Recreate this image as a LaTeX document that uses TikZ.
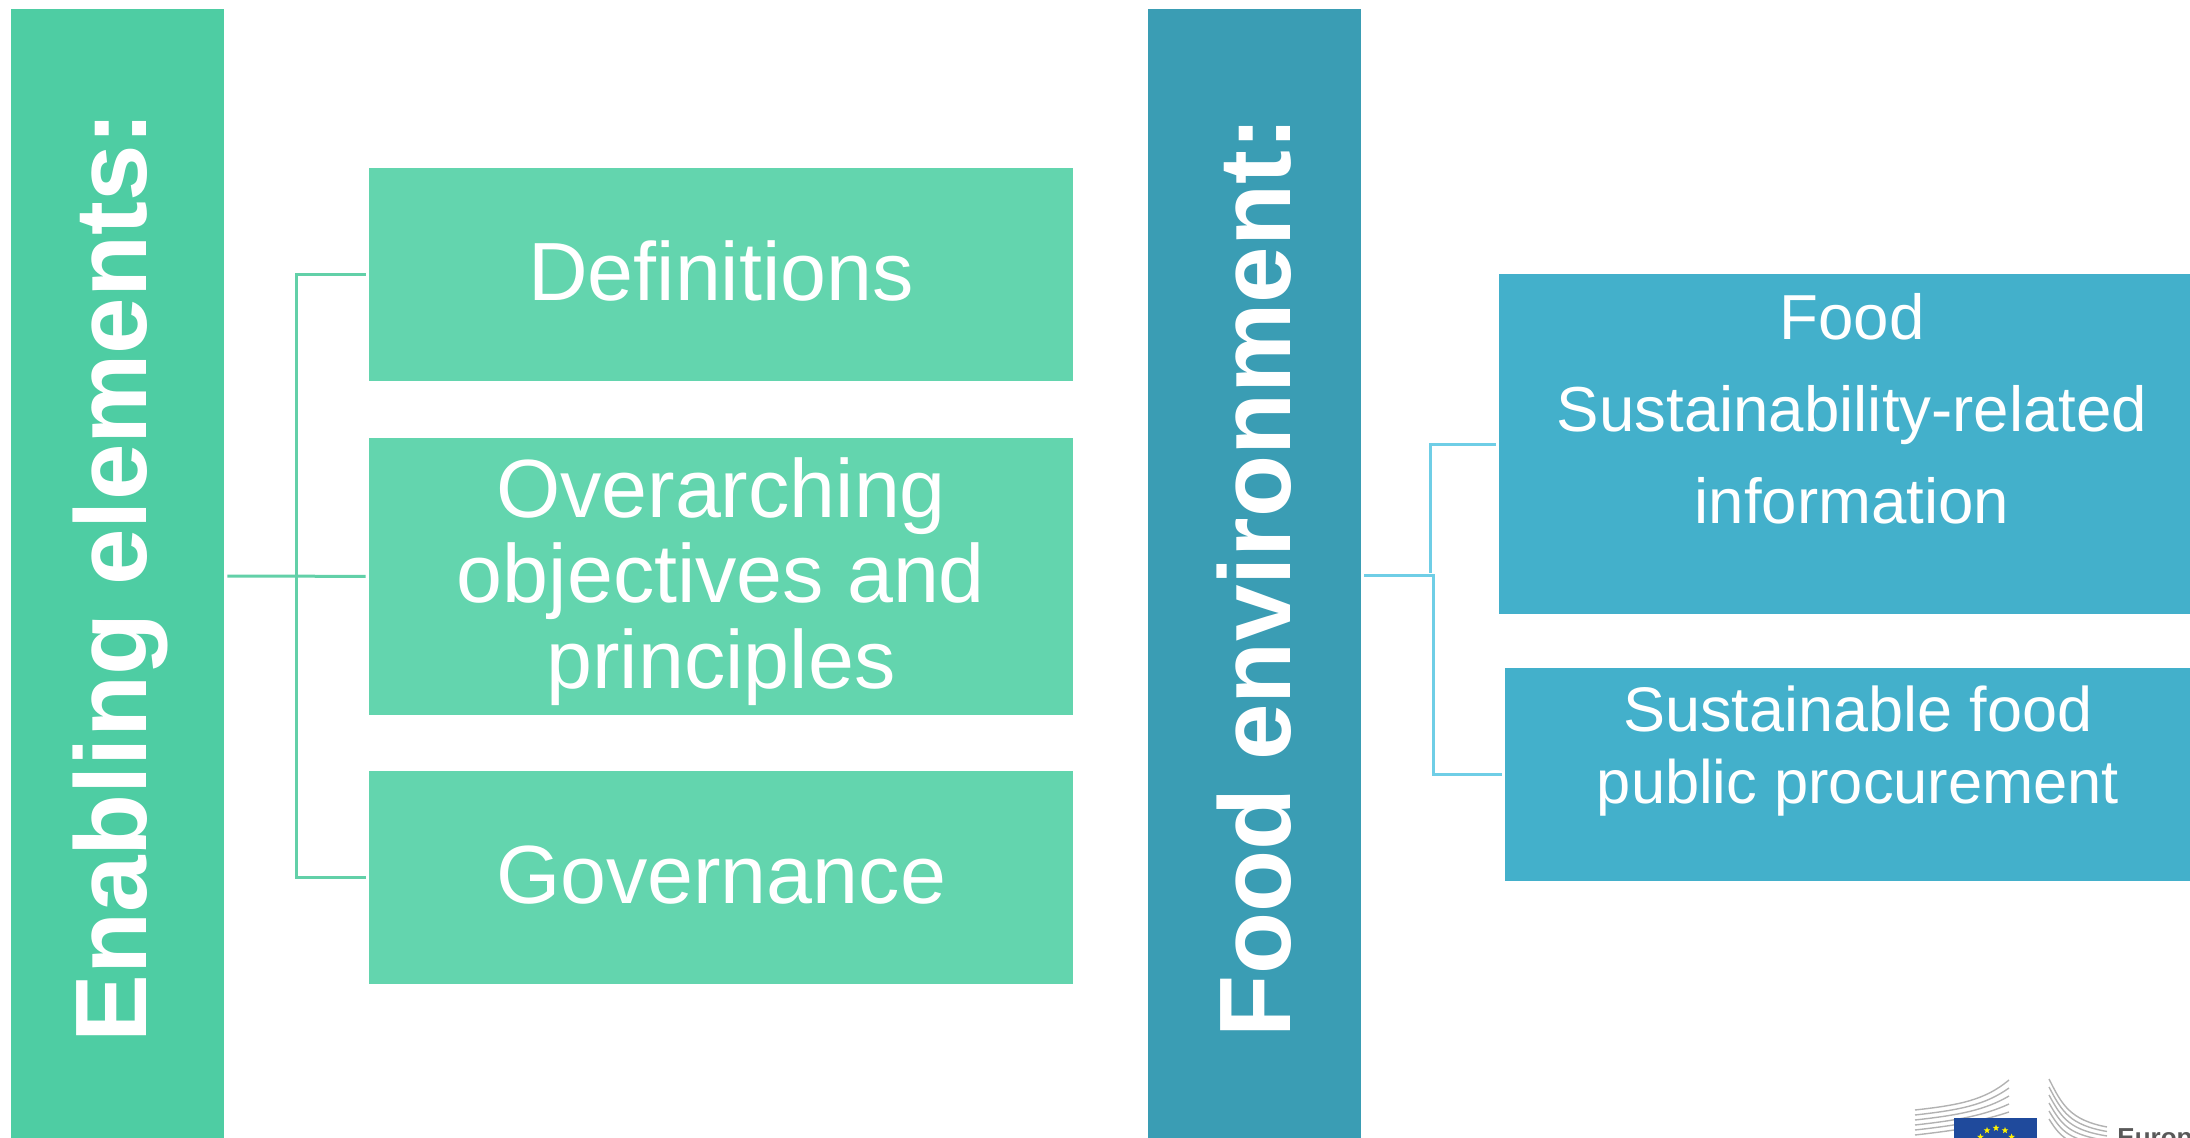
\documentclass[tikz,border=0pt]{standalone}
\usepackage{fontspec}
\setmainfont{Liberation Sans}
\usetikzlibrary{shapes.geometric}

\definecolor{greenbar}{HTML}{4ECDA3}
\definecolor{greenbox}{HTML}{63D5AE}
\definecolor{greenlink}{HTML}{62D0A8}
\definecolor{bluebar}{HTML}{3A9DB4}
\definecolor{bluebox}{HTML}{43B0CB}
\definecolor{bluelink}{HTML}{6FCEE6}
\definecolor{flagblue}{HTML}{1F4A9C}

\tikzset{
	bar/.style={rotate=90, text=white, font=\fontsize{50.8}{55}\selectfont\bfseries, minimum width=568pt, minimum height=106.5pt, inner sep=0pt},
	greenitem/.style={fill=greenbox, anchor=north west, minimum width=352pt, inner sep=0pt},
	blueitem/.style={fill=bluebox, anchor=north west, minimum width=353pt, inner sep=0pt},
	itemtext/.style={text=white, align=center, inner sep=0pt},
	linkline/.style={line width=1.5pt, shorten <=1.5pt, shorten >=1.5pt},
}

\begin{document}
\begin{tikzpicture}[x=0.5pt, y=-0.5pt]

	\useasboundingbox (0,0) rectangle (2190,1138);
	\clip (0,0) rectangle (2190,1138);

	\node[bar, fill=greenbar, text depth=7.7pt] (enabling) at (117.5,577) {Enabling elements:};
	\node[bar, fill=bluebar] (foodenv) at (1254.5,577) {Food environment:};

	\node[greenitem, minimum height=106.5pt] (definitions) at (368.5,168) {};
	\node[greenitem, minimum height=138.5pt] (objectives) at (368.5,437.5) {};
	\node[greenitem, minimum height=106.5pt] (governance) at (368.5,770.5) {};

	\node[itemtext, font=\fontsize{41.3}{43}\selectfont] (definitionstext) at (721,271) {Definitions};
	\node[itemtext, font=\fontsize{41.3}{42.8}\selectfont] (objectivestext) at (721,581.5) {Overarching\\objectives and\\principles};
	\node[itemtext, font=\fontsize{41.3}{43}\selectfont] (governancetext) at (721,875.5) {Governance};

	\node[blueitem, minimum height=170pt] (foodinfo) at (1499,274) {};
	\node[blueitem, minimum height=106.5pt] (procurement) at (1505,668) {};

	\node[itemtext, font=\fontsize{31.8}{46}\selectfont] (foodinfotext) at (1852,409) {Food\\Sustainability-related\\information};
	\node[itemtext, font=\fontsize{31.5}{36}\selectfont] (procurementtext) at (1858,751.5) {Sustainable food\\{\fontsize{30.7}{36}\selectfont public procurement}};

	\coordinate (greenbus) at (296,576);
	\coordinate (busup) at (1430,576);
	\coordinate (busdown) at (1433,576);

	\draw[linkline, greenlink] (definitions.west) -| (greenbus) |- (governance.west);
	\draw[linkline, greenlink] (enabling.south |- greenbus) -- (objectives.west);
	\draw[linkline, bluelink] (foodinfo.west) -| (busup);
	\draw[linkline, bluelink] (foodenv.south |- busdown) -- (busdown) |- (procurement.west);

	% logo in the corner
	\foreach \i in {0,...,5} {
		\draw[line width=0.7pt, gray!60] (1915,{1110+5*\i}) .. controls (1960,{1105+5*\i}) and (1985,{1100+5*\i}) .. (2009,{1080+8*\i});
		\draw[line width=0.7pt, gray!60] (2049,{1079+8*\i}) .. controls (2062,{1105+7*\i}) and (2070,{1120+5*\i}) .. (2107,{1127+4.5*\i});
	}
	\fill[flagblue] (1954,1118) rectangle (2037,1160);
	\foreach \a in {30,60,...,150} {
		\node[star, star points=5, star point ratio=2.4, fill=yellow, inner sep=0pt, minimum size=3.5pt] (star\a) at ({1996+18*cos(\a)},{1146-18*sin(\a)}) {};
	}
	\node[anchor=base west, inner sep=0pt, text=black!65, font=\fontsize{13}{15}\selectfont\bfseries] (ec) at (2117,1146) {European};

\end{tikzpicture}
\end{document}
